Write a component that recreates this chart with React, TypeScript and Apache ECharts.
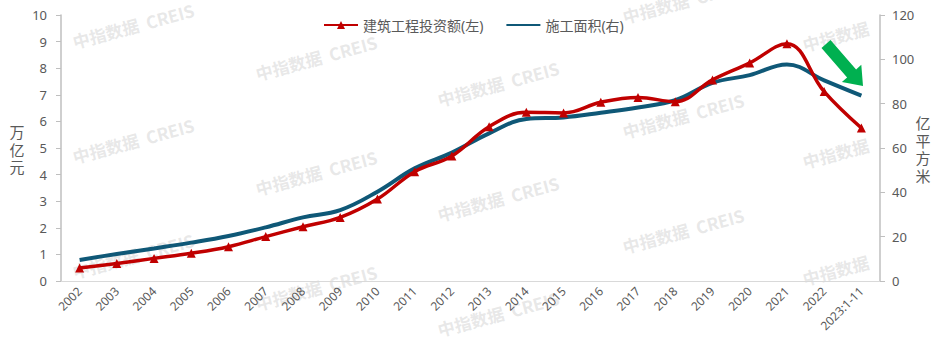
import React, { useEffect, useRef } from "react";
import * as echarts from "echarts";

const categories = [
  "2002", "2003", "2004", "2005", "2006", "2007", "2008", "2009", "2010", "2011", "2012",
  "2013", "2014", "2015", "2016", "2017", "2018", "2019", "2020", "2021", "2022", "2023:1-11",
];
// 建筑工程投资额 (万亿元, left axis)
const investment = [
  0.49, 0.66, 0.85, 1.04, 1.29, 1.67, 2.04, 2.39, 3.08, 4.11, 4.7,
  5.8, 6.34, 6.32, 6.72, 6.9, 6.74, 7.56, 8.2, 8.92, 7.12, 5.75,
];
// 施工面积 (亿平方米, right axis)
const area = [
  9.5, 12.2, 14.7, 17.3, 20.3, 24.2, 28.7, 32.0, 40.3, 50.8, 57.9,
  66.6, 73.1, 73.8, 75.9, 78.3, 81.6, 89.4, 92.9, 97.7, 90.5, 83.6,
];
const leftTicks = { min: 0, max: 10, interval: 1 };
const rightTicks = { min: 0, max: 120, interval: 20 };
const seriesNames = ["建筑工程投资额(左)", "施工面积(右)"];
const leftAxisName = ["万", "亿", "元"];
const rightAxisName = ["亿", "平", "方", "米"];

const RED = "#C00000";
const BLUE = "#0F5877";
const TEXT = "#595959";
const AXIS = "#BFBFBF";

const watermarkPositions: [number, number, boolean][] = [
  [75, 50, true], [75, 165, true], [75, 280, true],
  [258, 82, true], [258, 197, true], [258, 312, true],
  [440, 108, true], [440, 223, true], [440, 338, true],
  [625, 25, true], [625, 140, true], [625, 255, true],
  [805, 53, false], [805, 170, false], [805, 287, false],
];

export default function App() {
  const ref = useRef<HTMLDivElement>(null);
  useEffect(() => {
    if (!ref.current) return;
    const chart = echarts.init(ref.current, null, { renderer: "svg" });
    const font = "'Noto Sans', 'Noto Sans CJK SC', sans-serif";
    const rot = (15 * Math.PI) / 180;
    const watermarks = watermarkPositions.map(([x, y, full]) => ({
      type: "text",
      x,
      y,
      rotation: rot,
      z: -10,
      silent: true,
      style: {
        text: full ? "中指数据  CREIS" : "中指数据",
        fill: "rgba(190,190,190,0.36)",
        font: "bold 17px 'Noto Sans CJK SC', sans-serif",
        textAlign: "left",
        textVerticalAlign: "bottom",
      },
    }));
    const stacked = (chars: string[], cx: number, cy: number) => {
      const step = 17.5;
      const start = cy - ((chars.length - 1) * step) / 2;
      return chars.map((c, i) => ({
        type: "text",
        x: cx,
        y: start + i * step,
        style: {
          text: c,
          fill: TEXT,
          font: "15px 'Noto Sans CJK SC', sans-serif",
          textAlign: "center",
          textVerticalAlign: "middle",
        },
      }));
    };
    chart.setOption({
      animation: false,
      textStyle: { fontFamily: font },
      grid: { left: 61, right: 62, top: 15, bottom: 70, containLabel: false },
      legend: {
        top: 13,
        left: 318,
        itemWidth: 34,
        itemHeight: 10,
        itemGap: 22,
        textStyle: { color: TEXT, fontSize: 14, fontFamily: font },
        data: seriesNames,
      },
      xAxis: {
        type: "category",
        data: categories,
        boundaryGap: true,
        axisLine: { lineStyle: { color: "#D9D9D9", width: 1 } },
        axisTick: { show: false },
        axisLabel: { rotate: 45, color: TEXT, fontSize: 12, margin: 8, interval: 0, fontFamily: font },
      },
      yAxis: [
        {
          type: "value",
          ...leftTicks,
          position: "left",
          axisLine: { show: true, lineStyle: { color: AXIS, width: 1.5 } },
          axisTick: { show: true, length: 5, lineStyle: { color: AXIS } },
          splitLine: { show: false },
          axisLabel: { color: TEXT, fontSize: 13, margin: 14, fontFamily: font },
        },
        {
          type: "value",
          ...rightTicks,
          position: "right",
          axisLine: { show: true, lineStyle: { color: AXIS, width: 1.5 } },
          axisTick: { show: true, length: 5, lineStyle: { color: AXIS } },
          splitLine: { show: false },
          axisLabel: { color: TEXT, fontSize: 13, margin: 12, fontFamily: font },
        },
      ],
      graphic: [
        ...watermarks,
        ...stacked(leftAxisName, 17, 149),
        ...stacked(rightAxisName, 923, 149),
        {
          type: "polygon",
          z: 100,
          shape: {
            points: [
              [830.5, 40.0],
              [856.1, 69.4],
              [861.3, 64.7],
              [863, 86],
              [841.9, 82.1],
              [847.1, 77.4],
              [821.5, 48.0],
            ],
          },
          style: { fill: "#00B050" },
        },
      ],
      series: [
        {
          name: seriesNames[0],
          type: "line",
          yAxisIndex: 0,
          data: investment,
          smooth: 0.4,
          symbol: "triangle",
          symbolSize: 9,
          lineStyle: { color: RED, width: 3.5 },
          itemStyle: { color: RED },
          z: 3,
        },
        {
          name: seriesNames[1],
          type: "line",
          yAxisIndex: 1,
          data: area,
          smooth: 0.4,
          symbol: "line",
          showSymbol: false,
          lineStyle: { color: BLUE, width: 4 },
          itemStyle: { color: BLUE },
          z: 2,
        },
      ],
    });
    return () => chart.dispose();
  }, []);
  return <div ref={ref} style={{ width: 942, height: 351, position: "absolute", left: 0, top: 0 }} />;
}
